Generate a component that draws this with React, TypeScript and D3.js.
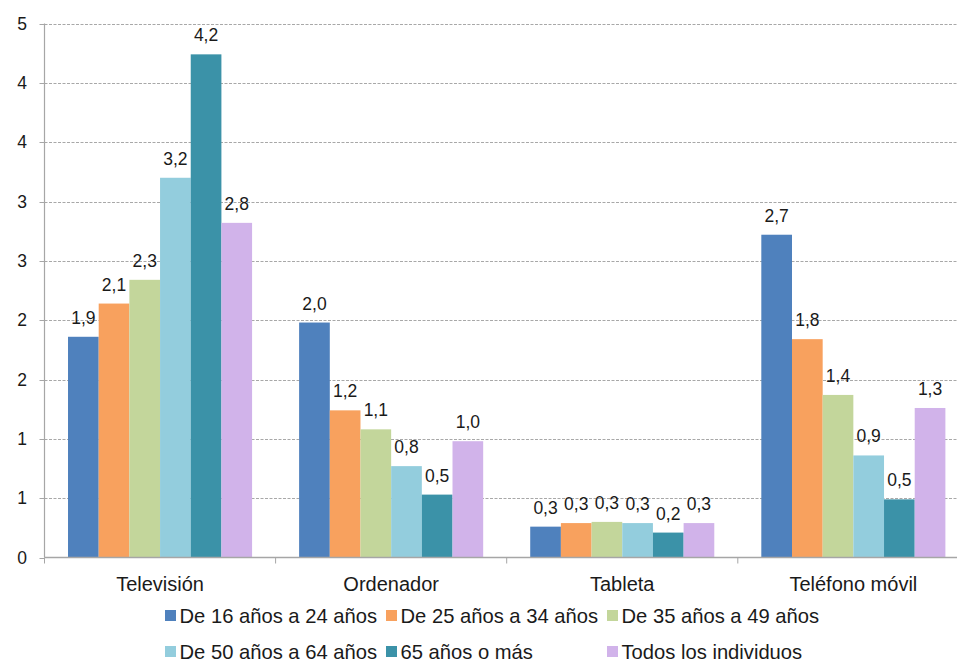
import React from 'react';
import * as d3 from 'd3';

const categories = ['Televisión', 'Ordenador', 'Tableta', 'Teléfono móvil'];
const seriesNames = [
  'De 16 años a 24 años',
  'De 25 años a 34 años',
  'De 35 años a 49 años',
  'De 50 años a 64 años',
  '65 años o más',
  'Todos los individuos',
];
const seriesColors = ['#4f81bd', '#f8a15e', '#c3d69b', '#93cddd', '#3b92a8', '#d1b3ea'];
const age16to24 = [1.86, 1.98, 0.26, 2.72];
const age25to34 = [2.14, 1.24, 0.29, 1.84];
const age35to49 = [2.34, 1.08, 0.3, 1.37];
const age50to64 = [3.2, 0.77, 0.29, 0.86];
const age65plus = [4.24, 0.53, 0.21, 0.49];
const allIndividuals = [2.82, 0.98, 0.29, 1.26];
const yTicks = [0, 0.5, 1, 1.5, 2, 2.5, 3, 3.5, 4, 4.5];
const yTickLabels = ['0', '1', '1', '2', '2', '3', '3', '4', '4', '5'];

const seriesValues = [age16to24, age25to34, age35to49, age50to64, age65plus, allIndividuals];

const W = 957;
const H = 662;
const FONT = '"Liberation Sans", Arial, Helvetica, sans-serif';
const TEXT = '#1a1a1a';
const AXIS = '#a6a6a6';

export default function App() {
  const left = 44.5;
  const right = 968.9;
  const bottom = 557.5;
  const top = 23.5;

  const x0 = d3.scaleBand<string>().domain(categories).range([left, right]).padding(0);
  const step = x0.bandwidth();
  const gap = step * 0.2035;
  const x1 = d3
    .scaleBand<number>()
    .domain(d3.range(seriesNames.length))
    .range([gap / 2, step - gap / 2])
    .padding(0);
  const y = d3.scaleLinear().domain([0, 4.5]).range([bottom, top]);
  const locale = d3.formatLocale({ decimal: ',', thousands: '.', grouping: [3], currency: ['', '€'] });
  const fmt = locale.format('.1f');

  const boundaries = d3.range(categories.length + 1).map((i) => left + i * step);

  return (
    <svg
      width={W}
      height={H}
      style={{ position: 'absolute', left: 0, top: 0, background: '#fff' }}
      fontFamily={FONT}
    >
      <rect x={0} y={0} width={W} height={H} fill="#fff" />
      {/* gridlines */}
      {yTicks.map((t, i) =>
        i === 0 ? null : (
          <line
            key={'g' + i}
            x1={left}
            x2={W}
            y1={Math.round(y(t)) + 0.5}
            y2={Math.round(y(t)) + 0.5}
            stroke="#a8a8a8"
            strokeWidth={1}
            strokeDasharray="3,1.5"
          />
        )
      )}
      {/* bars */}
      {categories.map((c, ci) => (
        <g key={c} transform={`translate(${x0(c)},0)`}>
          {seriesValues.map((vals, si) => (
            <rect
              key={si}
              x={x1(si)}
              y={y(vals[ci])}
              width={x1.bandwidth()}
              height={bottom - y(vals[ci])}
              fill={seriesColors[si]}
            />
          ))}
          {seriesValues.map((vals, si) => (
            <text
              key={'l' + si}
              x={(x1(si) as number) + x1.bandwidth() / 2}
              y={y(vals[ci]) - 13}
              textAnchor="middle"
              fontSize={17.5}
              fill={TEXT}
            >
              {fmt(vals[ci])}
            </text>
          ))}
        </g>
      ))}
      {/* y axis */}
      <line x1={left} x2={left} y1={top} y2={bottom} stroke={AXIS} strokeWidth={1.2} />
      {yTicks.map((t, i) => (
        <g key={'yt' + i}>
          <line x1={left - 5} x2={left} y1={Math.round(y(t)) + 0.5} y2={Math.round(y(t)) + 0.5} stroke={AXIS} />
          <text x={27} y={y(t) + 6} textAnchor="end" fontSize={17.5} fill={TEXT}>
            {yTickLabels[i]}
          </text>
        </g>
      ))}
      {/* x axis */}
      <line x1={left} x2={W} y1={bottom} y2={bottom} stroke={AXIS} strokeWidth={1.5} />
      {boundaries.map((bx, i) => (
        <line key={'xt' + i} x1={bx} x2={bx} y1={bottom} y2={bottom + 6} stroke={AXIS} />
      ))}
      {categories.map((c) => (
        <text
          key={'c' + c}
          x={(x0(c) as number) + step / 2}
          y={591}
          textAnchor="middle"
          fontSize={20}
          fill={TEXT}
        >
          {c}
        </text>
      ))}
      {/* legend */}
      {seriesNames.map((name, i) => {
        const col = i % 3;
        const row = Math.floor(i / 3);
        const lx = 165 + col * 221;
        const ly = 610 + row * 36;
        return (
          <g key={'lg' + i}>
            <rect x={lx} y={ly} width={11} height={11} fill={seriesColors[i]} />
            <text x={lx + 14.5} y={ly + 13} fontSize={20.2} fill={TEXT}>
              {name}
            </text>
          </g>
        );
      })}
    </svg>
  );
}
